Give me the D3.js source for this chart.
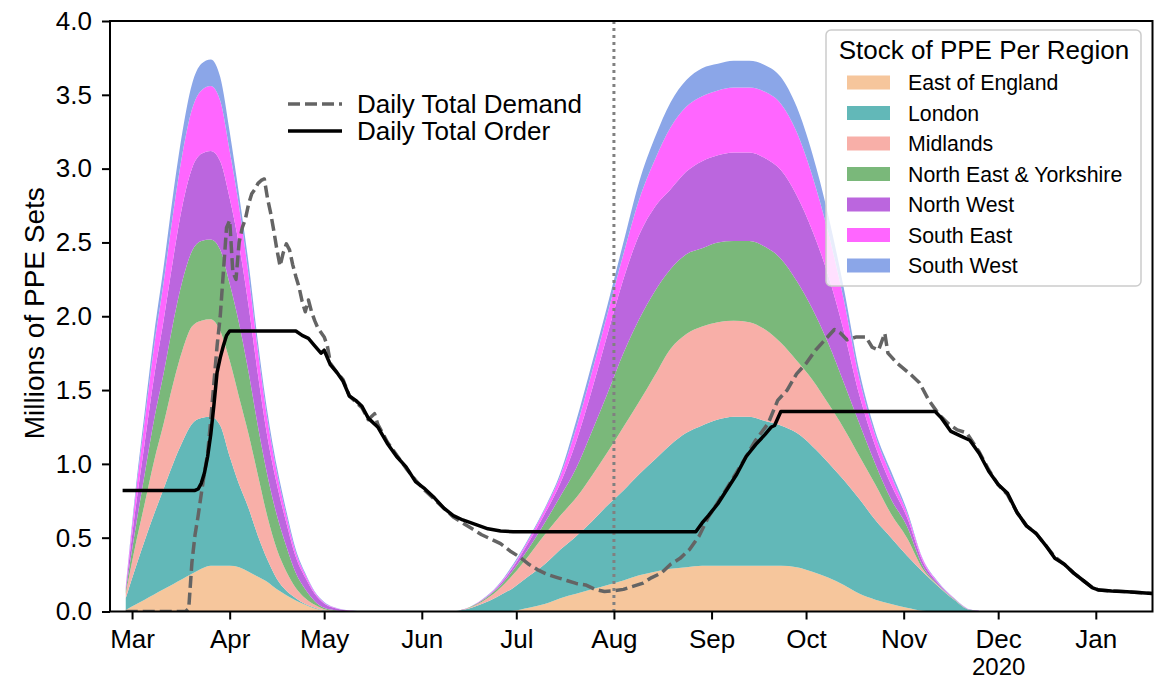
<!DOCTYPE html>
<html><head><meta charset="utf-8">
<script src="https://cdn.jsdelivr.net/npm/d3@7"></script>
<style>
body{margin:0;background:#fff}
svg{display:block}
text{font-family:"Liberation Sans",Arial,Helvetica,sans-serif;fill:#000}
</style>
</head><body>
<svg id="chart" width="1158" height="681"></svg>
<script>
// ---------------- DATA ----------------
const regionNames = ["East of England","London","Midlands","North East & Yorkshire","North West","South East","South West"];
const regionColors = ["#f6c69c","#62b8b8","#f8afa8","#7ab87a","#bb66de","#ff66ff","#8ba6e8"];

const stockDates = [
 "2020-02-28","2020-03-02","2020-03-05","2020-03-08","2020-03-11","2020-03-14","2020-03-17","2020-03-20","2020-03-23","2020-03-26",
 "2020-03-29","2020-04-01","2020-04-04","2020-04-07","2020-04-10","2020-04-13","2020-04-16","2020-04-19","2020-04-22","2020-04-25",
 "2020-04-28","2020-05-01","2020-05-04","2020-05-07","2020-05-10","2020-05-13",
 "2020-06-10","2020-06-15","2020-06-20","2020-06-25","2020-06-30","2020-07-05","2020-07-10","2020-07-15","2020-07-20","2020-07-25",
 "2020-07-30","2020-08-04","2020-08-09","2020-08-14","2020-08-19","2020-08-24","2020-08-29","2020-09-03","2020-09-08","2020-09-13",
 "2020-09-18","2020-09-23","2020-09-28","2020-10-03","2020-10-08","2020-10-13","2020-10-18","2020-10-23","2020-10-28","2020-11-02",
 "2020-11-07","2020-11-12","2020-11-17","2020-11-22","2020-11-27"];

const eastOfEngland = [
 0.01,0.045,0.08,0.115,0.15,0.185,0.22,0.255,0.29,0.31,0.31,0.31,0.30,0.27,0.235,0.20,0.15,0.11,0.075,0.045,0.02,0.005,0,0,0,0,
 0,0,0,0,0.005,0.025,0.05,0.09,0.12,0.15,0.18,0.21,0.245,0.27,0.29,0.30,0.31,0.31,0.31,0.31,0.31,0.31,0.30,0.27,0.23,0.18,0.12,0.08,0.05,0.025,0.005,0,0,0,0];
const london = [
 0.08,0.245,0.40,0.545,0.68,0.815,0.93,1.015,1.02,1.01,0.95,0.74,0.56,0.43,0.275,0.15,0.07,0.03,0.015,0.005,0.005,0.003,0,0,0,0,
 0,0.015,0.05,0.10,0.155,0.215,0.27,0.33,0.39,0.46,0.54,0.61,0.685,0.76,0.84,0.91,0.95,0.99,1.01,1.01,0.98,0.95,0.91,0.85,0.78,0.71,0.64,0.54,0.45,0.355,0.265,0.17,0.08,0.01,0];
const midlands = [
 0.03,0.15,0.25,0.36,0.44,0.54,0.62,0.66,0.66,0.66,0.64,0.65,0.59,0.50,0.41,0.29,0.20,0.13,0.07,0.04,0.02,0.007,0.005,0,0,0,
 0,0.003,0.015,0.04,0.09,0.14,0.20,0.23,0.26,0.31,0.36,0.43,0.49,0.57,0.65,0.67,0.67,0.66,0.65,0.64,0.62,0.56,0.49,0.45,0.40,0.35,0.29,0.24,0.16,0.12,0.02,0.005,0.002,0.001,0];
const northEastYorkshire = [
 0.02,0.11,0.20,0.28,0.34,0.41,0.47,0.51,0.54,0.54,0.55,0.52,0.50,0.42,0.33,0.28,0.23,0.17,0.10,0.06,0.025,0.01,0.005,0.003,0,0,
 0,0.001,0.007,0.015,0.03,0.05,0.08,0.13,0.20,0.30,0.40,0.50,0.56,0.57,0.54,0.54,0.53,0.54,0.54,0.55,0.56,0.57,0.54,0.48,0.41,0.31,0.22,0.14,0.10,0.08,0.02,0.005,0.003,0.001,0];
const northWest = [
 0.015,0.13,0.21,0.29,0.36,0.43,0.51,0.56,0.59,0.60,0.60,0.58,0.53,0.45,0.35,0.26,0.21,0.16,0.11,0.08,0.05,0.03,0.015,0.007,0.004,0,
 0,0.001,0.004,0.01,0.02,0.04,0.06,0.09,0.18,0.28,0.40,0.50,0.57,0.57,0.54,0.56,0.59,0.59,0.60,0.60,0.60,0.60,0.58,0.53,0.46,0.35,0.19,0.12,0.10,0.06,0.03,0.01,0.003,0.001,0];
const southEast = [
 0.01,0.085,0.15,0.205,0.255,0.31,0.35,0.40,0.43,0.44,0.41,0.32,0.26,0.21,0.16,0.12,0.08,0.05,0.03,0.02,0.01,0.005,0.003,0.002,0.001,0,
 0,0,0.002,0.005,0.01,0.02,0.03,0.05,0.09,0.12,0.14,0.17,0.24,0.32,0.42,0.44,0.44,0.44,0.44,0.44,0.45,0.45,0.43,0.37,0.29,0.21,0.11,0.07,0.06,0.03,0.015,0.005,0.002,0.001,0];
const southWest = [
 0.005,0.035,0.06,0.085,0.105,0.13,0.15,0.17,0.18,0.18,0.16,0.13,0.08,0.08,0.06,0.05,0.04,0.03,0.02,0.01,0.005,0.005,0.002,0.002,0.001,0,
 0,0,0.002,0.005,0.01,0.01,0.01,0.02,0.05,0.06,0.06,0.08,0.12,0.15,0.17,0.18,0.19,0.18,0.18,0.18,0.18,0.18,0.17,0.15,0.12,0.08,0.05,0.03,0.03,0.02,0.005,0.005,0.002,0.001,0];

const orderDates = [
 "2020-02-27","2020-03-21","2020-03-22","2020-03-23","2020-03-24","2020-03-25","2020-03-26","2020-03-27","2020-03-28","2020-03-29",
 "2020-03-30","2020-03-31","2020-04-01","2020-04-22","2020-04-24","2020-04-26","2020-04-28","2020-04-30","2020-05-01","2020-05-03",
 "2020-05-05","2020-05-07","2020-05-09","2020-05-11","2020-05-13","2020-05-15","2020-05-18","2020-05-21","2020-05-24","2020-05-27",
 "2020-05-30","2020-06-02","2020-06-05","2020-06-08","2020-06-11","2020-06-14","2020-06-18","2020-06-22","2020-06-26","2020-06-30",
 "2020-08-27","2020-08-29","2020-08-31","2020-09-03","2020-09-06","2020-09-09","2020-09-12","2020-09-15","2020-09-18","2020-09-20",
 "2020-09-21","2020-09-23","2020-11-11","2020-11-13","2020-11-16","2020-11-19","2020-11-22","2020-11-25","2020-11-28","2020-12-01",
 "2020-12-04","2020-12-07","2020-12-10","2020-12-13","2020-12-16","2020-12-19","2020-12-22","2020-12-25","2020-12-28","2020-12-31",
 "2021-01-02","2021-01-06","2021-01-11","2021-01-19"];
const orderValues = [
 0.82,0.82,0.83,0.87,0.94,1.05,1.20,1.40,1.62,1.72,
 1.80,1.87,1.90,1.90,1.87,1.85,1.80,1.75,1.77,1.67,
 1.62,1.56,1.46,1.43,1.39,1.31,1.25,1.14,1.05,0.98,
 0.88,0.83,0.77,0.70,0.65,0.62,0.59,0.56,0.545,0.54,
 0.54,0.60,0.65,0.73,0.83,0.93,1.05,1.13,1.20,1.25,
 1.26,1.355,1.355,1.31,1.22,1.19,1.16,1.07,0.95,0.86,
 0.80,0.67,0.58,0.53,0.45,0.36,0.32,0.26,0.21,0.16,
 0.145,0.139,0.134,0.122];

const demandDates = [
 "2020-02-28","2020-03-18","2020-03-19","2020-03-20","2020-03-21","2020-03-22","2020-03-23","2020-03-24","2020-03-25","2020-03-26",
 "2020-03-27","2020-03-28","2020-03-29","2020-03-30","2020-03-31","2020-04-01","2020-04-02","2020-04-03","2020-04-04","2020-04-05",
 "2020-04-06","2020-04-07","2020-04-08","2020-04-09","2020-04-10","2020-04-11","2020-04-12","2020-04-13","2020-04-14","2020-04-15",
 "2020-04-16","2020-04-17","2020-04-18","2020-04-19","2020-04-20","2020-04-21","2020-04-22","2020-04-23","2020-04-24","2020-04-25",
 "2020-04-26","2020-04-27","2020-04-28","2020-04-29","2020-04-30","2020-05-01","2020-05-02","2020-05-03","2020-05-05","2020-05-07",
 "2020-05-09","2020-05-11","2020-05-13","2020-05-15","2020-05-17","2020-05-18","2020-05-21","2020-05-24","2020-05-27","2020-05-30",
 "2020-06-02","2020-06-05","2020-06-08","2020-06-11","2020-06-14","2020-06-17","2020-06-20","2020-06-23","2020-06-26","2020-06-29",
 "2020-07-02","2020-07-05","2020-07-08","2020-07-11","2020-07-14","2020-07-17","2020-07-20","2020-07-23","2020-07-26","2020-07-29",
 "2020-08-01","2020-08-04","2020-08-07","2020-08-10","2020-08-13","2020-08-16","2020-08-19","2020-08-22","2020-08-25","2020-08-28",
 "2020-08-31","2020-09-03","2020-09-06","2020-09-10","2020-09-15","2020-09-19","2020-09-22","2020-09-25","2020-09-28","2020-10-01",
 "2020-10-04","2020-10-07","2020-10-10","2020-10-12","2020-10-14","2020-10-17","2020-10-20","2020-10-22","2020-10-24","2020-10-26",
 "2020-10-27","2020-10-30","2020-11-03","2020-11-06","2020-11-09","2020-11-12","2020-11-15","2020-11-18","2020-11-21","2020-11-25",
 "2020-11-28","2020-12-01","2020-12-04","2020-12-07","2020-12-10","2020-12-13","2020-12-16","2020-12-19","2020-12-22","2020-12-25",
 "2020-12-28","2020-12-31","2021-01-02","2021-01-06","2021-01-11","2021-01-19"];
const demandValues = [
 0,0,0.02,0.33,0.52,0.65,0.80,0.94,1.07,1.30,
 1.55,1.80,2.00,2.30,2.60,2.65,2.30,2.25,2.50,2.60,
 2.66,2.76,2.83,2.86,2.90,2.92,2.93,2.80,2.70,2.58,
 2.45,2.34,2.43,2.49,2.45,2.35,2.27,2.20,2.10,2.03,
 2.11,2.03,1.97,1.92,1.89,1.86,1.80,1.68,1.62,1.57,
 1.46,1.42,1.38,1.30,1.34,1.27,1.15,1.06,0.97,0.89,
 0.82,0.76,0.70,0.64,0.60,0.56,0.52,0.49,0.46,0.41,
 0.37,0.32,0.28,0.25,0.23,0.21,0.19,0.18,0.15,0.135,
 0.14,0.15,0.17,0.19,0.23,0.26,0.32,0.36,0.42,0.51,
 0.64,0.74,0.84,0.98,1.16,1.275,1.43,1.50,1.61,1.68,
 1.77,1.84,1.91,1.885,1.84,1.86,1.86,1.79,1.77,1.885,
 1.75,1.68,1.61,1.55,1.43,1.34,1.275,1.23,1.21,1.08,
 0.96,0.86,0.79,0.67,0.58,0.53,0.45,0.37,0.32,0.26,
 0.21,0.16,0.145,0.139,0.134,0.122];

const monthTickDates = ["2020-03-01","2020-04-01","2020-05-01","2020-06-01","2020-07-01","2020-08-01","2020-09-01","2020-10-01","2020-11-01","2020-12-01","2021-01-01"];
const monthTickLabels = ["Mar","Apr","May","Jun","Jul","Aug","Sep","Oct","Nov","Dec","Jan"];
const yearLabel = {date:"2020-12-01", text:"2020"};
const yTickValues = [0,0.5,1.0,1.5,2.0,2.5,3.0,3.5,4.0];
const markerDate = "2020-08-01";
const yAxisTitle = "Millions of PPE Sets";
const legendTitle = "Stock of PPE Per Region";
const lineLegend = ["Daily Total Demand","Daily Total Order"];

// ---------------- CHART ----------------
const parse = d3.utcParse("%Y-%m-%d");
const svg = d3.select("#chart");
const L = 110, R = 1152.5, T = 21, B = 611.5;

const x = d3.scaleUtc().domain([parse("2020-02-23"), parse("2021-01-19")]).range([L, R]);
const y = d3.scaleLinear().domain([0, 4]).range([B, T]);

svg.append("defs").append("clipPath").attr("id","plotclip")
  .append("rect").attr("x",L).attr("y",T).attr("width",R-L).attr("height",B-T);

const seriesArrays = [eastOfEngland, london, midlands, northEastYorkshire, northWest, southEast, southWest];
const table = stockDates.map((d,i) => {
  const row = {date: parse(d)};
  regionNames.forEach((n,k) => row[n] = seriesArrays[k][i]);
  return row;
});
const stacked = d3.stack().keys(regionNames)(table);

const plot = svg.append("g").attr("clip-path","url(#plotclip)");
const area = d3.area()
  .x(d => x(d.data.date))
  .y0(d => y(d[0]))
  .y1(d => y(d[1]))
  .curve(d3.curveMonotoneX);

plot.selectAll("path.layer").data(stacked).join("path")
  .attr("class","layer")
  .attr("d", area)
  .attr("fill", (d,i) => regionColors[i]);

// vertical dotted marker
plot.append("line")
  .attr("x1", x(parse(markerDate))).attr("x2", x(parse(markerDate)))
  .attr("y1", T).attr("y2", B)
  .attr("stroke","#808080").attr("stroke-width",3).attr("stroke-dasharray","3,4");

const line = d3.line().x(d => x(d[0])).y(d => y(d[1]));
const demandPts = demandDates.map((d,i) => [parse(d), demandValues[i]]);
const orderPts = orderDates.map((d,i) => [parse(d), orderValues[i]]);

plot.append("path").attr("d", line(demandPts))
  .attr("fill","none").attr("stroke","#646464").attr("stroke-width",3.5)
  .attr("stroke-dasharray","12,5").attr("stroke-linejoin","round");
plot.append("path").attr("d", line(orderPts))
  .attr("fill","none").attr("stroke","#000").attr("stroke-width",3.5)
  .attr("stroke-linejoin","round");

// axes
const xAxis = d3.axisBottom(x)
  .tickValues(monthTickDates.map(parse))
  .tickFormat((d,i) => monthTickLabels[i])
  .tickSize(8).tickPadding(10);
const gx = svg.append("g").attr("transform",`translate(0,${B})`).call(xAxis);
const yAxis = d3.axisLeft(y).tickValues(yTickValues).tickFormat(d3.format(".1f")).tickSize(8).tickPadding(10);
const gy = svg.append("g").attr("transform",`translate(${L},0)`).call(yAxis);
[gx, gy].forEach(g => {
  g.select(".domain").remove();
  g.selectAll(".tick line").attr("stroke","#000").attr("stroke-width",2);
  g.selectAll(".tick text").attr("font-size",26).attr("fill","#000")
    .style("font-family",'"Liberation Sans",Arial,sans-serif');
});
// year as a second line of the Dec tick label (multi-line label)
gx.selectAll(".tick").filter(d => +d === +parse(yearLabel.date)).select("text")
  .append("tspan").attr("x",0).attr("dy",27.5).attr("font-size",24).text(yearLabel.text);

// frame
svg.append("rect").attr("x",L).attr("y",T).attr("width",R-L).attr("height",B-T)
  .attr("fill","none").attr("stroke","#000").attr("stroke-width",2);

// y title
svg.append("text")
  .attr("transform",`translate(44,${(T+B)/2 - 3}) rotate(-90)`)
  .attr("text-anchor","middle").attr("font-size",28).text(yAxisTitle);

// line legend
const lg = svg.append("g");
lg.append("line").attr("x1",288).attr("x2",342).attr("y1",104).attr("y2",104)
  .attr("stroke","#646464").attr("stroke-width",3.5).attr("stroke-dasharray","12,5");
lg.append("line").attr("x1",288).attr("x2",342).attr("y1",131).attr("y2",131)
  .attr("stroke","#000").attr("stroke-width",3.5);
lg.append("text").attr("x",357).attr("y",113).attr("font-size",26).text(lineLegend[0]);
lg.append("text").attr("x",357).attr("y",140).attr("font-size",26).text(lineLegend[1]);

// region legend
const rg = svg.append("g");
rg.append("rect").attr("x",826).attr("y",30).attr("width",315).attr("height",256).attr("rx",5)
  .attr("fill","#fff").attr("fill-opacity",0.8).attr("stroke","#cccccc").attr("stroke-width",1.5);
rg.append("text").attr("x",984).attr("y",59).attr("text-anchor","middle").attr("font-size",26).text(legendTitle);
regionNames.forEach((n,i) => {
  const cy = 82.5 + i*30.5;
  rg.append("rect").attr("x",847).attr("y",cy-7).attr("width",43).attr("height",14).attr("fill",regionColors[i]);
  rg.append("text").attr("x",908).attr("y",cy+7.5).attr("font-size",21.3).text(n);
});
</script>
</body></html>
